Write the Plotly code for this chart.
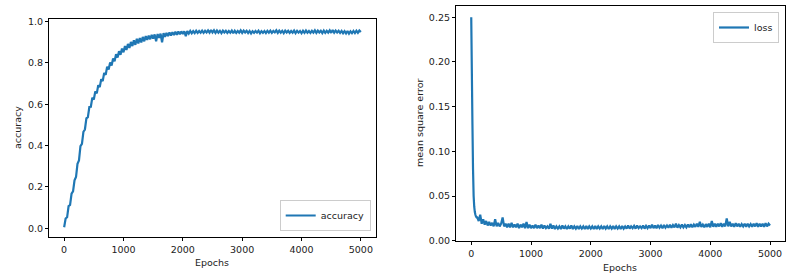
import plotly.graph_objects as go

# ---------------- data ----------------
acc_epochs = list(range(0, 5001, 25))
accuracy = [
    0.005, 0.047, 0.053, 0.107, 0.113, 0.167, 0.178, 0.232,
    0.248, 0.312, 0.328, 0.397, 0.408, 0.467, 0.478, 0.532,
    0.538, 0.587, 0.588, 0.632, 0.623, 0.662, 0.653, 0.692,
    0.683, 0.722, 0.713, 0.752, 0.743, 0.782, 0.768, 0.802,
    0.788, 0.822, 0.808, 0.842, 0.826, 0.857, 0.840, 0.870,
    0.852, 0.882, 0.863, 0.892, 0.873, 0.902, 0.882, 0.91,
    0.888, 0.917, 0.895, 0.921, 0.90, 0.926, 0.905, 0.93,
    0.912, 0.932, 0.915, 0.936, 0.918, 0.938, 0.905, 0.94,
    0.922, 0.942, 0.90, 0.944, 0.927, 0.946, 0.93, 0.948,
    0.933, 0.949, 0.935, 0.951, 0.937, 0.952, 0.939, 0.953,
    0.94, 0.953, 0.93, 0.954, 0.942, 0.955, 0.944, 0.954,
    0.945, 0.956, 0.946, 0.955, 0.947, 0.957, 0.946, 0.956,
    0.948, 0.958, 0.947, 0.96, 0.948, 0.958, 0.946, 0.957,
    0.947, 0.956, 0.945, 0.957, 0.948, 0.956, 0.946, 0.955,
    0.947, 0.957, 0.944, 0.956, 0.946, 0.955, 0.947, 0.958,
    0.946, 0.957, 0.948, 0.956, 0.945, 0.955, 0.943, 0.954,
    0.946, 0.955, 0.947, 0.956, 0.944, 0.954, 0.946, 0.955,
    0.945, 0.956, 0.947, 0.957, 0.946, 0.955, 0.948, 0.958,
    0.946, 0.957, 0.947, 0.956, 0.945, 0.957, 0.948, 0.956,
    0.946, 0.955, 0.947, 0.957, 0.945, 0.956, 0.947, 0.955,
    0.944, 0.956, 0.946, 0.957, 0.947, 0.955, 0.946, 0.956,
    0.947, 0.958, 0.946, 0.957, 0.948, 0.956, 0.945, 0.957,
    0.946, 0.956, 0.947, 0.958, 0.946, 0.959, 0.947, 0.957,
    0.948, 0.956, 0.946, 0.955, 0.944, 0.954, 0.943, 0.955,
    0.942, 0.953, 0.944, 0.955, 0.945, 0.956, 0.946, 0.957,
    0.95,
]

loss_epochs = [0, 10, 20, 30, 40, 50, 60, 70, 80, 90] + list(range(100, 5001, 25))
loss = [
    0.25, 0.19, 0.13, 0.08, 0.05, 0.038, 0.032, 0.029, 0.027, 0.026,
    0.026, 0.022, 0.029, 0.019, 0.024, 0.018, 0.022, 0.017, 0.021, 0.017,
    0.020, 0.016, 0.024, 0.016, 0.020, 0.016, 0.019, 0.026, 0.016, 0.019,
    0.015, 0.019, 0.015, 0.020, 0.015, 0.018, 0.015, 0.019, 0.014, 0.018,
    0.015, 0.019, 0.014, 0.021, 0.014, 0.018, 0.014, 0.017, 0.014, 0.018,
    0.014, 0.017, 0.014, 0.018, 0.0135, 0.017, 0.014, 0.016, 0.0135, 0.019,
    0.0135, 0.017, 0.013, 0.016, 0.0135, 0.016, 0.013, 0.017, 0.0135, 0.016,
    0.013, 0.016, 0.0135, 0.017, 0.013, 0.016, 0.0135, 0.0165, 0.013, 0.016,
    0.0135, 0.016, 0.013, 0.0165, 0.013, 0.016, 0.0135, 0.016, 0.013, 0.0165,
    0.013, 0.016, 0.0135, 0.016, 0.013, 0.0165, 0.0135, 0.016, 0.013, 0.016,
    0.0135, 0.0165, 0.013, 0.016, 0.0135, 0.016, 0.013, 0.0165, 0.0135, 0.016,
    0.0135, 0.017, 0.0135, 0.016, 0.014, 0.0165, 0.0135, 0.017, 0.014, 0.016,
    0.014, 0.017, 0.0135, 0.0165, 0.014, 0.017, 0.014, 0.018, 0.014, 0.017,
    0.014, 0.0175, 0.0145, 0.017, 0.014, 0.0175, 0.0145, 0.017, 0.0145, 0.018,
    0.0145, 0.0175, 0.015, 0.019, 0.0145, 0.0175, 0.015, 0.018, 0.015, 0.0175,
    0.015, 0.018, 0.015, 0.0185, 0.015, 0.018, 0.0155, 0.019, 0.0155, 0.021,
    0.0155, 0.018, 0.015, 0.0185, 0.0155, 0.019, 0.015, 0.022, 0.0155, 0.019,
    0.0155, 0.019, 0.016, 0.0195, 0.0155, 0.019, 0.016, 0.025, 0.016, 0.021,
    0.016, 0.019, 0.0155, 0.0195, 0.016, 0.019, 0.0155, 0.0185, 0.016, 0.019,
    0.0155, 0.019, 0.016, 0.0185, 0.0155, 0.019, 0.016, 0.0195, 0.0155, 0.019,
    0.016, 0.019, 0.0155, 0.0195, 0.016, 0.019, 0.017,
]

x_ticks = [0, 1000, 2000, 3000, 4000, 5000]
acc_ticks = [0.0, 0.2, 0.4, 0.6, 0.8, 1.0]
acc_tick_labels = ["0.0", "0.2", "0.4", "0.6", "0.8", "1.0"]
loss_ticks = [0.0, 0.05, 0.10, 0.15, 0.20, 0.25]
loss_tick_labels = ["0.00", "0.05", "0.10", "0.15", "0.20", "0.25"]

# ---------------- figure ----------------
W, H = 804, 273
BLUE = "#1f77b4"
TXT = "#222222"
FONT = "DejaVu Sans"
FS = 9.5
LW = 2.2

fig = go.Figure()
fig.add_trace(go.Scatter(x=acc_epochs, y=accuracy, mode="lines", name="accuracy",
                         line=dict(color=BLUE, width=LW, simplify=False),
                         xaxis="x", yaxis="y", legend="legend"))
fig.add_trace(go.Scatter(x=loss_epochs, y=loss, mode="lines", name="loss",
                         line=dict(color=BLUE, width=LW, simplify=False),
                         xaxis="x2", yaxis="y2", legend="legend2"))

def px_x(p):
    return p / W

def px_y(p):
    return 1 - p / H

axis_common = dict(showline=True, mirror=True, linecolor="black", linewidth=0.8,
                   ticks="outside", ticklen=3.5, tickwidth=0.8, tickcolor="black",
                   showgrid=False, zeroline=False, automargin=False,
                   tickfont=dict(family=FONT, size=FS, color=TXT))

legend_common = dict(bordercolor="#cccccc", borderwidth=1, bgcolor="white",
                     font=dict(family=FONT, size=FS, color=TXT), itemwidth=30,
                     tracegroupgap=0)

fig.update_layout(
    width=W, height=H,
    margin=dict(l=0, r=0, t=0, b=0, autoexpand=False),
    paper_bgcolor="white", plot_bgcolor="white",
    font=dict(family=FONT, size=FS, color=TXT),
    xaxis=dict(domain=[px_x(49.3), px_x(375.7)], range=[-250, 5250],
               tickvals=x_ticks, anchor="y", **axis_common),
    yaxis=dict(domain=[px_y(236.7), px_y(19)], range=[-0.041, 1.013],
               tickvals=acc_ticks, ticktext=acc_tick_labels, anchor="x", **axis_common),
    xaxis2=dict(domain=[px_x(456.3), px_x(785)], range=[-250, 5250],
                tickvals=x_ticks, anchor="y2", **axis_common),
    yaxis2=dict(domain=[px_y(240.7), px_y(6)], range=[0, 0.2625],
                tickvals=loss_ticks, ticktext=loss_tick_labels, anchor="x2", **axis_common),
    legend=dict(x=px_x(370.7), y=px_y(231), xanchor="right", yanchor="bottom",
                **legend_common),
    legend2=dict(x=px_x(779), y=px_y(12), xanchor="right", yanchor="top",
                 **legend_common),
    showlegend=True,
)

annots = [
    dict(text="accuracy", x=px_x(17), y=px_y(128), textangle=-90),
    dict(text="Epochs", x=px_x(212), y=px_y(262)),
    dict(text="mean square error", x=px_x(420), y=px_y(123), textangle=-90),
    dict(text="Epochs", x=px_x(620), y=px_y(267)),
]
for a in annots:
    fig.add_annotation(xref="paper", yref="paper", showarrow=False,
                       xanchor="center", yanchor="middle",
                       font=dict(family=FONT, size=FS, color=TXT), **a)

fig.write_html("out.html", config={"displayModeBar": False},
               post_script="document.body.style.margin='0';document.body.style.padding='0';")
